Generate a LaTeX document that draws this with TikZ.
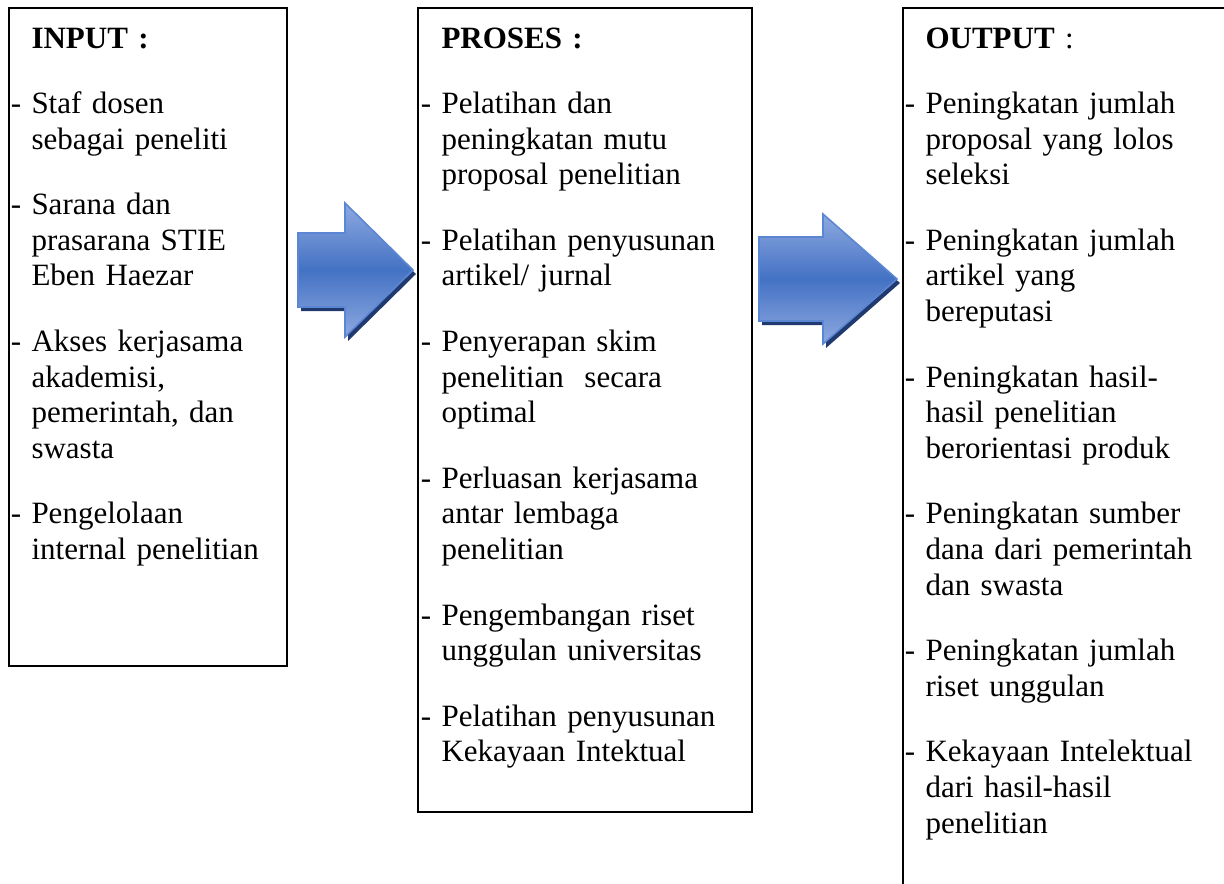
\documentclass[tikz,border=0pt]{standalone}
\usepackage{fontspec}
\setmainfont{Liberation Serif}
\definecolor{panahbiru}{HTML}{4472C4}
\definecolor{panahterang}{HTML}{8EA9E0}
\definecolor{panahgaris}{HTML}{5B86D4}
\definecolor{panahbayang}{HTML}{203A70}
\newcommand{\butir}{\par\vspace{11.3pt}\leavevmode\llap{-\ }}

\begin{document}
\begin{tikzpicture}[x=0.387pt,y=-0.387pt,
    kolom/.style={anchor=base west, inner sep=0pt, align=left, text width=#1,
      font=\fontsize{12pt}{13.9pt}\selectfont},
    kotak/.style={draw=black, line width=0.8pt},
    panah/.style={draw=panahgaris, line width=0.6pt, top color=panahterang,
      bottom color=panahterang, middle color=panahbiru},
    bayang/.style={fill=panahbayang}]
  \useasboundingbox (0,0) rectangle (1224,883);
  \clip (0,0) rectangle (1224,883);
  % kotak
  \draw[kotak] (9,8) rectangle (287,666);
  \draw[kotak] (418,8) rectangle (752,812);
  \draw[kotak] (903,8) rectangle (1300,950);
  % panah: kiri / leher / ujung / tengah / setengah batang / setengah kepala
  \foreach \kiri/\leher/\ujung/\yt/\hb/\hk in {298/345/413/270/37/67, 759/823/897/279/42/65} {
    \fill[bayang, shift={(3,4)}] (\kiri,\yt-\hb) -- (\leher,\yt-\hb) -- (\leher,\yt-\hk) -- (\ujung,\yt)
      -- (\leher,\yt+\hk) -- (\leher,\yt+\hb) -- (\kiri,\yt+\hb) -- cycle;
    \draw[panah] (\kiri,\yt-\hb) -- (\leher,\yt-\hb) -- (\leher,\yt-\hk) -- (\ujung,\yt)
      -- (\leher,\yt+\hk) -- (\leher,\yt+\hb) -- (\kiri,\yt+\hb) -- cycle;
  }
  % isi
  \node[kolom=100pt] (input) at (31,48) {\textbf{INPUT :}
    \butir Staf dosen\\ sebagai peneliti
    \butir Sarana dan\\ prasarana STIE\\ Eben Haezar
    \butir Akses kerjasama\\ akademisi,\\ pemerintah, dan\\ swasta
    \butir Pengelolaan\\ internal penelitian};
  \node[kolom=125pt] (proses) at (441,48) {\textbf{PROSES :}
    \butir Pelatihan dan\\ peningkatan mutu\\ proposal penelitian
    \butir Pelatihan penyusunan\\ artikel/ jurnal
    \butir Penyerapan skim\\ penelitian\ \ secara\\ optimal
    \butir Perluasan kerjasama\\ antar lembaga\\ penelitian
    \butir Pengembangan riset\\ unggulan universitas
    \butir Pelatihan penyusunan\\ Kekayaan Intektual};
  \node[kolom=125pt] (output) at (925,48) {\textbf{OUTPUT} :
    \butir Peningkatan jumlah\\ proposal yang lolos\\ seleksi
    \butir Peningkatan jumlah\\ artikel yang\\ bereputasi
    \butir Peningkatan hasil-\\ hasil penelitian\\ berorientasi produk
    \butir Peningkatan sumber\\ dana dari pemerintah\\ dan swasta
    \butir Peningkatan jumlah\\ riset unggulan
    \butir Kekayaan Intelektual\\ dari hasil-hasil\\ penelitian};
\end{tikzpicture}
\end{document}
